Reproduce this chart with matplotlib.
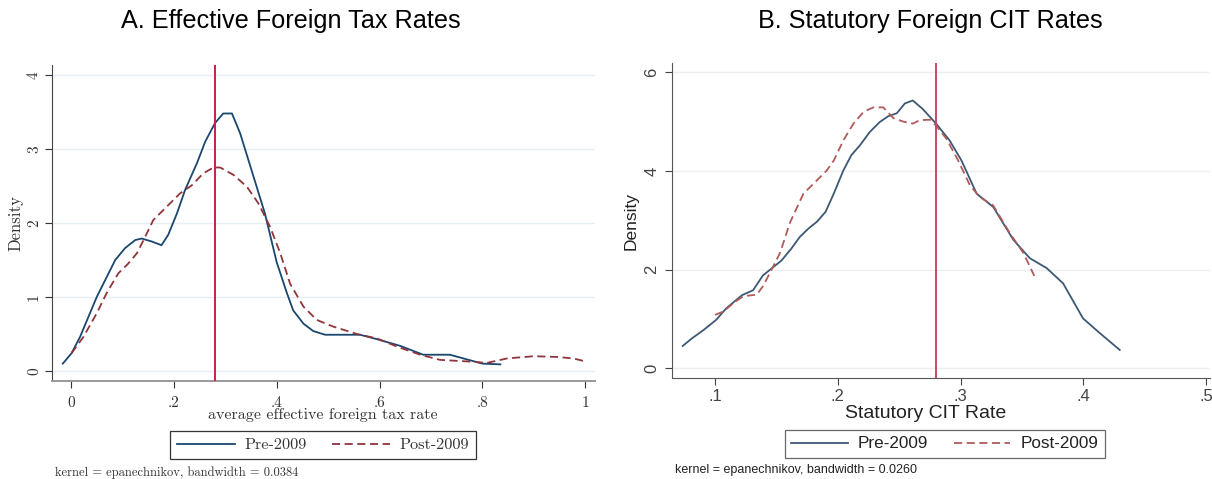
import matplotlib
matplotlib.use("Agg")
import matplotlib.pyplot as plt
from matplotlib.lines import Line2D

# ---------------- data ----------------
# Panel A: effective foreign tax rate densities
a_pre_x = [-0.016, 0.001, 0.0175, 0.05, 0.086, 0.105, 0.125, 0.1375, 0.157, 0.176, 0.189, 0.206,
           0.222, 0.245, 0.261, 0.28, 0.296, 0.313, 0.329, 0.345, 0.361, 0.377, 0.40, 0.42,
           0.432, 0.452, 0.471, 0.494, 0.562, 0.595, 0.64, 0.685, 0.737, 0.763, 0.80, 0.835]
a_pre_y = [0.10, 0.24, 0.46, 1.0, 1.5, 1.66, 1.77, 1.79, 1.75, 1.70, 1.84, 2.13,
           2.45, 2.81, 3.10, 3.35, 3.48, 3.48, 3.21, 2.85, 2.49, 2.13, 1.47, 1.05,
           0.82, 0.64, 0.54, 0.49, 0.49, 0.43, 0.34, 0.22, 0.22, 0.17, 0.10, 0.09]
a_post_x = [0.001, 0.024, 0.05, 0.069, 0.092, 0.111, 0.128, 0.144, 0.16, 0.186, 0.212, 0.235,
            0.257, 0.277, 0.29, 0.316, 0.342, 0.364, 0.387, 0.407, 0.426, 0.452, 0.478, 0.51,
            0.556, 0.595, 0.634, 0.679, 0.718, 0.77, 0.809, 0.848, 0.90, 0.945, 0.977, 1.0]
a_post_y = [0.24, 0.46, 0.78, 1.05, 1.32, 1.45, 1.59, 1.81, 2.04, 2.22, 2.40, 2.51,
            2.67, 2.75, 2.75, 2.65, 2.49, 2.27, 1.95, 1.59, 1.18, 0.87, 0.69, 0.60,
            0.50, 0.44, 0.33, 0.22, 0.15, 0.13, 0.11, 0.17, 0.20, 0.19, 0.17, 0.13]
a_vline = 0.28
a_xticks = [0, 0.2, 0.4, 0.6, 0.8, 1.0]
a_xticklabels = ["0", ".2", ".4", ".6", ".8", "1"]
a_yticks = [0, 1, 2, 3, 4]
a_yticklabels = ["0", "1", "2", "3", "4"]

# Panel B: statutory CIT rate densities
b_pre_x = [0.0737, 0.081, 0.0905, 0.101, 0.109, 0.122, 0.131, 0.139, 0.148, 0.154, 0.162, 0.169,
           0.176, 0.183, 0.190, 0.1967, 0.2045, 0.211, 0.218, 0.226, 0.234, 0.241, 0.248, 0.2546,
           0.261, 0.269, 0.280, 0.291, 0.3007, 0.313, 0.3265, 0.343, 0.3563, 0.370, 0.3834,
           0.3996, 0.4133, 0.4295]
b_pre_y = [0.45, 0.60, 0.77, 0.98, 1.21, 1.48, 1.58, 1.88, 2.06, 2.18, 2.42, 2.66,
           2.83, 2.97, 3.17, 3.54, 4.01, 4.32, 4.52, 4.79, 4.99, 5.11, 5.17, 5.37,
           5.43, 5.26, 4.96, 4.62, 4.21, 3.54, 3.27, 2.60, 2.23, 2.03, 1.72,
           1.01, 0.71, 0.37]
b_post_x = [0.1, 0.107, 0.115, 0.123, 0.134, 0.139, 0.1447, 0.153, 0.161, 0.172, 0.183, 0.191,
            0.1967, 0.2045, 0.2127, 0.221, 0.229, 0.237, 0.2453, 0.2535, 0.261, 0.2668, 0.275,
            0.280, 0.2885, 0.298, 0.3075, 0.3157, 0.3265, 0.340, 0.351, 0.360]
b_post_y = [1.08, 1.15, 1.32, 1.46, 1.49, 1.66, 1.93, 2.34, 2.95, 3.54, 3.81, 4.01,
            4.21, 4.62, 4.96, 5.20, 5.29, 5.29, 5.07, 5.00, 4.96, 5.03, 5.04,
            4.92, 4.65, 4.21, 3.71, 3.47, 3.30, 2.74, 2.34, 1.87]
b_vline = 0.28
b_xticks = [0.1, 0.2, 0.3, 0.4, 0.5]
b_xticklabels = [".1", ".2", ".3", ".4", ".5"]
b_yticks = [0, 2, 4, 6]
b_yticklabels = ["0", "2", "4", "6"]

series_labels = ["Pre-2009", "Post-2009"]

# ---------------- figure ----------------
W, H = 1212, 479
fig = plt.figure(figsize=(W / 100, H / 100), dpi=100)
fig.patch.set_facecolor("white")

def frac(x0, y0, x1, y1):
    return [x0 / W, 1 - y1 / H, (x1 - x0) / W, (y1 - y0) / H]

serif = ["cmr10", "DejaVu Serif"]
sans = ["Liberation Sans", "DejaVu Sans"]

# ---- Panel A ----
axA = fig.add_axes(frac(52, 65, 595, 381))
axA.set_xlim(-0.037, 1.019)
axA.set_ylim(-0.135, 4.135)
for yv in a_yticks:
    axA.axhline(yv, color="#e6eef1", lw=1.0, zorder=0)
axA.plot(a_pre_x, a_pre_y, color="#1a476f", lw=1.3, zorder=3)
axA.plot(a_post_x, a_post_y, color="#90353b", lw=1.3, ls=(0, (4.5, 2.5)), zorder=3)
axA.axvline(a_vline, color="#c8204a", lw=1.4, zorder=4)
axA.set_xticks(a_xticks)
axA.set_xticklabels(a_xticklabels, family=serif, fontsize=11, color="#333333")
axA.set_yticks(a_yticks)
axA.set_yticklabels(a_yticklabels, family=serif, fontsize=11, color="#333333",
                    rotation=90, va="center", ha="right")
axA.tick_params(axis="both", direction="out", length=5, width=0.8, colors="#333333")
axA.tick_params(axis="x", pad=6)
axA.tick_params(axis="y", pad=3)
for s in ["top", "right"]:
    axA.spines[s].set_visible(False)
axA.spines["left"].set_color("#444444")
axA.spines["bottom"].set_color("#999999")
axA.spines["bottom"].set_linewidth(1.4)
axA.set_ylabel("Density", family=serif, fontsize=12, color="#333333", labelpad=3)
fig.text(323 / W, 1 - 415 / H, "average effective foreign tax rate", family=serif,
         fontsize=11.5, color="#333333", ha="center", va="center")
fig.text(291 / W, 1 - 21 / H, "A. Effective Foreign Tax Rates", family=sans,
         fontsize=18.2, color="black", ha="center", va="center")
hA = [Line2D([], [], color="#1a476f", lw=1.3),
      Line2D([], [], color="#90353b", lw=1.3, ls=(0, (4.5, 2.5)))]
legA = axA.legend(hA, series_labels, loc="center", bbox_to_anchor=(323 / W, 1 - 445 / H),
                  bbox_transform=fig.transFigure, ncol=2, frameon=True, fancybox=False,
                  edgecolor="black", handlelength=3.6, handletextpad=0.6, columnspacing=1.5,
                  borderpad=0.4, prop={"family": serif, "size": 11.7})
legA.get_frame().set_linewidth(0.9)
for t in legA.get_texts():
    t.set_color("#333333")
fig.text(55 / W, 1 - 473 / H, "kernel = epanechnikov, bandwidth = 0.0384", family=serif,
         fontsize=9, color="#333333", ha="left", va="center")

# ---- Panel B ----
axB = fig.add_axes(frac(672, 63, 1210, 378))
axB.set_xlim(0.065, 0.503)
axB.set_ylim(-0.2, 6.19)
for yv in b_yticks:
    axB.axhline(yv, color="#eeeeee", lw=1.0, zorder=0)
axB.plot(b_pre_x, b_pre_y, color="#3d5873", lw=1.3, zorder=3)
axB.plot(b_post_x, b_post_y, color="#b05a5a", lw=1.3, ls=(0, (4.5, 2.5)), zorder=3)
axB.axvline(b_vline, color="#cc4466", lw=1.4, zorder=4)
axB.set_xticks(b_xticks)
axB.set_xticklabels(b_xticklabels, family=sans, fontsize=12, color="#222222")
axB.set_yticks(b_yticks)
axB.set_yticklabels(b_yticklabels, family=sans, fontsize=12, color="#222222",
                    rotation=90, va="center", ha="right")
axB.tick_params(axis="both", direction="out", length=5, width=0.8, colors="#444444")
axB.tick_params(axis="x", pad=3)
axB.tick_params(axis="y", pad=4)
for s in ["top", "right"]:
    axB.spines[s].set_visible(False)
axB.spines["left"].set_color("#555555")
axB.spines["bottom"].set_color("#555555")
axB.set_ylabel("Density", family=sans, fontsize=12.5, color="#222222", labelpad=4)
fig.text(926 / W, 1 - 414 / H, "Statutory CIT Rate", family=sans,
         fontsize=14, color="#222222", ha="center", va="center")
fig.text(930 / W, 1 - 21 / H, "B. Statutory Foreign CIT Rates", family=sans,
         fontsize=18.2, color="black", ha="center", va="center")
hB = [Line2D([], [], color="#3d5873", lw=1.3),
      Line2D([], [], color="#b05a5a", lw=1.3, ls=(0, (4.5, 2.5)))]
legB = axB.legend(hB, series_labels, loc="center", bbox_to_anchor=(945 / W, 1 - 444 / H),
                  bbox_transform=fig.transFigure, ncol=2, frameon=True, fancybox=False,
                  edgecolor="#444444", handlelength=3.3, handletextpad=0.6, columnspacing=1.5,
                  borderpad=0.4, prop={"family": sans, "size": 12.3})
legB.get_frame().set_linewidth(0.9)
for t in legB.get_texts():
    t.set_color("#222222")
fig.text(675 / W, 1 - 470 / H, "kernel = epanechnikov, bandwidth = 0.0260", family=sans,
         fontsize=9, color="#222222", ha="left", va="center")

fig.savefig("out.png", dpi=100, facecolor="white")
